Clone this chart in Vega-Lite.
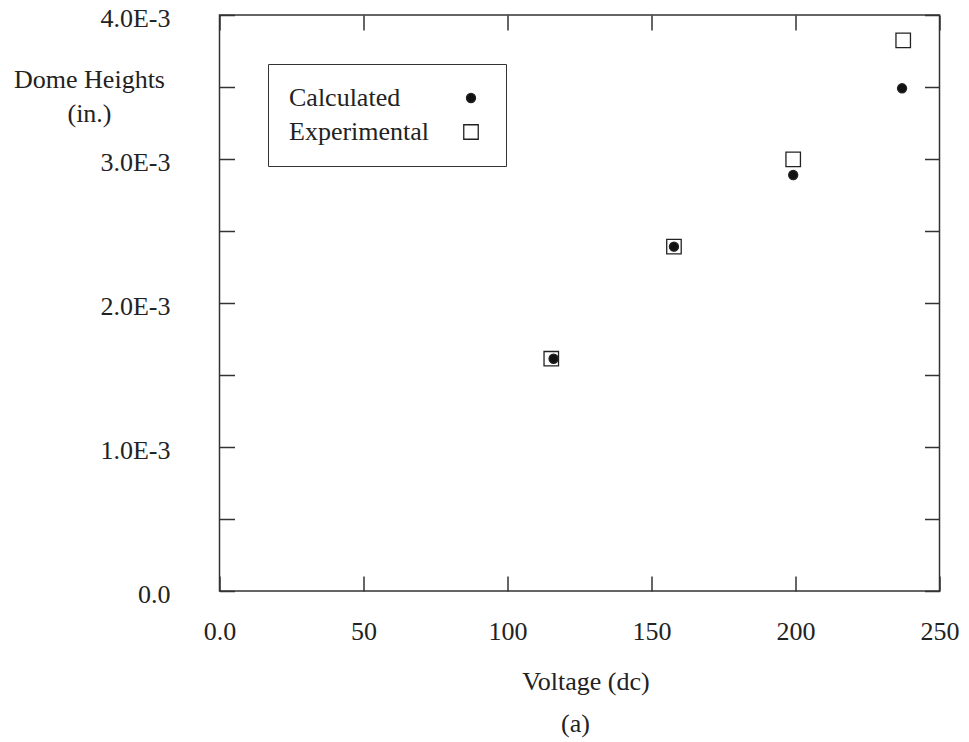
{
  "$schema": "https://vega.github.io/schema/vega-lite/v6.json",
  "width": 720,
  "height": 576,
  "autosize": {"type": "none"},
  "padding": {"left": 219.5, "top": 15, "right": 29.5, "bottom": 151},
  "background": "white",
  "config": {
    "view": {"stroke": "#333", "strokeWidth": 1.5},
    "font": "Liberation Serif",
    "axis": {
      "domain": false,
      "grid": false,
      "tickColor": "#333",
      "tickWidth": 1.5,
      "tickSize": -15,
      "labelFont": "Liberation Serif",
      "labelFontSize": 26,
      "labelColor": "#222",
      "titleFont": "Liberation Serif",
      "titleFontSize": 26,
      "titleFontWeight": "normal",
      "titleColor": "#222"
    },
    "legend": {
      "orient": "none",
      "legendX": 48.5,
      "legendY": 49,
      "labelFont": "Liberation Serif",
      "labelFontSize": 26,
      "labelColor": "#222",
      "titleFont": "Liberation Serif",
      "titleFontSize": 26,
      "titleOrient": "right",
      "titlePadding": 4,
      "strokeColor": "#333",
      "fillColor": "white",
      "padding": 21,
      "rowPadding": 8,
      "symbolOffset": 169,
      "labelOffset": -195,
      "symbolStrokeColor": "#222",
      "symbolStrokeWidth": 1.3
    }
  },
  "title": {
    "text": "(a)",
    "orient": "bottom",
    "anchor": "middle",
    "font": "Liberation Serif",
    "fontSize": 26,
    "fontWeight": "normal",
    "color": "#222",
    "offset": 17,
    "dx": -4
  },
  "data": {
    "values": [
      {"series": "Experimental", "voltage": 115.2, "height": 0.001613},
      {"series": "Experimental", "voltage": 157.8, "height": 0.002391},
      {"series": "Experimental", "voltage": 199.2, "height": 0.002998},
      {"series": "Experimental", "voltage": 237.4, "height": 0.003824},
      {"series": "Calculated", "voltage": 116.0, "height": 0.001613},
      {"series": "Calculated", "voltage": 157.8, "height": 0.002391},
      {"series": "Calculated", "voltage": 199.2, "height": 0.002889},
      {"series": "Calculated", "voltage": 237.0, "height": 0.003491}
    ]
  },
  "layer": [
    {
      "mark": {"type": "point", "strokeWidth": 1.3, "opacity": 1},
      "encoding": {
        "x": {
          "field": "voltage",
          "type": "quantitative",
          "scale": {"domain": [0, 250], "nice": false, "zero": false},
          "axis": {
            "orient": "bottom",
            "values": [0, 50, 100, 150, 200, 250],
            "labelExpr": "datum.value == 0 ? '0.0' : datum.label",
            "labelFlush": false,
            "labelBaseline": "alphabetic",
            "labelPadding": 63,
            "title": "Voltage (dc)",
            "titleBaseline": "alphabetic",
            "titleX": 366,
            "titleY": 98,
            "titleAnchor": "start",
            "titleAlign": "center"
          }
        },
        "y": {
          "field": "height",
          "type": "quantitative",
          "scale": {"domain": [0, 0.004], "nice": false, "zero": false},
          "axis": {
            "orient": "left",
            "values": [0, 0.0005, 0.001, 0.0015, 0.002, 0.0025, 0.003, 0.0035, 0.004],
            "labelExpr": "round(datum.value * 2000) % 2 == 1 ? '' : (datum.value == 0 ? '0.0' : format(datum.value * 1000, '.1f') + 'E-3')",
            "labelBaseline": "alphabetic",
            "labelOffset": 11,
            "labelPadding": 64.5,
            "labelFlush": false,
            "title": ["Dome Heights", "(in.)"],
            "titleAngle": 0,
            "titleAlign": "center",
            "titleBaseline": "alphabetic",
            "titleAnchor": "start",
            "titleX": -130.5,
            "titleY": 72.3,
            "titleLineHeight": 34
          }
        },
        "shape": {
          "field": "series",
          "type": "nominal",
          "scale": {"domain": ["Calculated", "Experimental"], "range": ["circle", "square"]},
          "legend": {"title": " "}
        },
        "fill": {
          "field": "series",
          "type": "nominal",
          "scale": {"domain": ["Calculated", "Experimental"], "range": ["#111111", "transparent"]},
          "legend": {"title": " "}
        },
        "stroke": {
          "field": "series",
          "type": "nominal",
          "scale": {"domain": ["Calculated", "Experimental"], "range": ["#222222", "#222222"]},
          "legend": {"title": " "}
        },
        "size": {
          "field": "series",
          "type": "nominal",
          "scale": {"domain": ["Calculated", "Experimental"], "range": [82, 210]},
          "legend": {"title": " "}
        }
      }
    },
    {
      "mark": {"type": "point", "opacity": 0},
      "encoding": {
        "x": {
          "field": "voltage",
          "type": "quantitative",
          "axis": {
            "orient": "top",
            "values": [0, 50, 100, 150, 200, 250],
            "labels": false,
            "title": null
          }
        },
        "y": {
          "field": "height",
          "type": "quantitative",
          "axis": {
            "orient": "right",
            "values": [0, 0.0005, 0.001, 0.0015, 0.002, 0.0025, 0.003, 0.0035, 0.004],
            "labels": false,
            "title": null
          }
        }
      }
    }
  ],
  "resolve": {"axis": {"x": "independent", "y": "independent"}}
}
